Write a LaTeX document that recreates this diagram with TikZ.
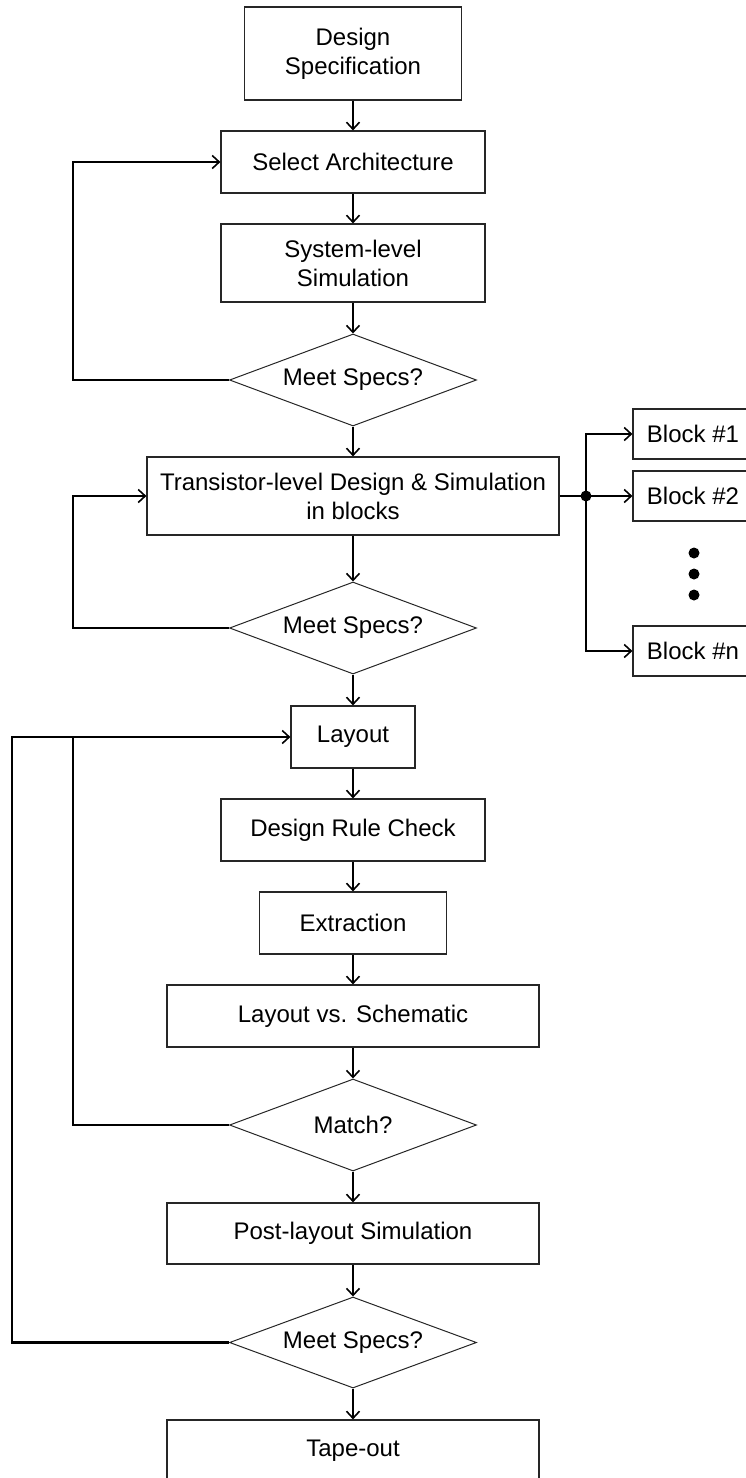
\documentclass[tikz,border=0pt]{standalone}
\usepackage{fontspec}
\setmainfont{Liberation Sans}
\usetikzlibrary{shapes.geometric,arrows.meta}

\begin{document}
\begin{tikzpicture}[x=1pt,y=-1pt,
  font=\fontsize{24}{29}\selectfont,
  box/.style={draw=black!85,line width=1.2pt,inner sep=0pt,align=center},
  decision/.style={draw=black!85,line width=1pt,shape=diamond,aspect=2.68,inner sep=0pt,minimum width=247pt,minimum height=92pt},
  flow/.style={line width=2.2pt,-{Straight Barb[length=7pt,width=13pt,line width=1.6pt]}},
  wire/.style={line width=2.2pt}]

% Page size
\useasboundingbox (0,0) rectangle (746,1478);

% Column positions
\def\midx{353} % centre of the main flow
\def\innerx{73} % inner feedback line
\def\outerx{12} % outer feedback line
\def\blockx{693} % centre of the block column

% Main flow
\node[box,minimum width=217pt,minimum height=93pt] (spec) at (\midx,53.5) {Design\\Specification};
\node[box,minimum width=264pt,minimum height=62pt] (arch) at (\midx,162) {Select Architecture};
\node[box,minimum width=264pt,minimum height=78pt] (sys) at (\midx,263) {System-level\\Simulation};
\node[decision] (meet1) at (\midx,380) {Meet Specs?};
\node[box,minimum width=412pt,minimum height=78pt] (trans) at (\midx,496) {Transistor-level Design \& Simulation\\in blocks};
\node[decision] (meet2) at (\midx,628) {Meet Specs?};
\node[box,minimum width=124pt,minimum height=62pt] (layout) at (\midx,737) {Layout};
\node[box,minimum width=264pt,minimum height=62pt] (drc) at (\midx,830) {Design Rule Check};
\node[box,minimum width=187pt,minimum height=62pt] (extract) at (\midx,923) {Extraction};
\node[box,minimum width=372pt,minimum height=62pt] (lvs) at (\midx,1016) {Layout vs. Schematic};
\node[decision] (match) at (\midx,1125) {Match?};
\node[box,minimum width=372pt,minimum height=61pt] (post) at (\midx,1233.5) {Post-layout Simulation};
\node[decision,minimum height=91pt] (meet3) at (\midx,1342.5) {Meet Specs?};
\node[box,minimum width=372pt,minimum height=62pt] (tape) at (\midx,1451) {Tape-out};

% Block column
\node[box,minimum width=120pt,minimum height=50pt] (blk1) at (\blockx,434) {Block \#1};
\node[box,minimum width=120pt,minimum height=50pt] (blk2) at (\blockx,496) {Block \#2};
\node[box,minimum width=120pt,minimum height=50pt] (blkn) at (\blockx,651) {Block \#n};
\foreach \y in {553,574,595}
  \fill (694,\y) circle (5.5);

% Helper points
\coordinate (inner) at (\innerx,0);
\coordinate (outer) at (\outerx,0);
\coordinate (fork) at (586,496);

% Downward arrows
\draw[flow] (spec) -- (arch);
\draw[flow] (arch) -- (sys);
\draw[flow] (sys) -- (meet1);
\draw[flow] (meet1) -- (trans);
\draw[flow] (trans) -- (meet2);
\draw[flow] (meet2) -- (layout);
\draw[flow] (layout) -- (drc);
\draw[flow] (drc) -- (extract);
\draw[flow] (extract) -- (lvs);
\draw[flow] (lvs) -- (match);
\draw[flow] (match) -- (post);
\draw[flow] (post) -- (meet3);
\draw[flow] (meet3) -- (tape);

% Feedback loops
\draw[flow] (meet1.west) -- (meet1.west -| inner) |- (arch.west);
\draw[flow] (meet2.west) -- (meet2.west -| inner) |- (trans.west);
\draw[wire] (match.west) -- (match.west -| inner) -- (layout.west -| inner);
\draw[flow] (meet3.west) -- (meet3.west -| outer) |- (layout.west);

% Fan-out to the blocks
\draw[wire] (trans.east) -- (fork);
\fill (fork) circle (5.5);
\draw[flow] (fork) -- (blk2.west);
\draw[flow] (fork) |- (blk1.west);
\draw[flow] (fork) |- (blkn.west);

\end{tikzpicture}
\end{document}
